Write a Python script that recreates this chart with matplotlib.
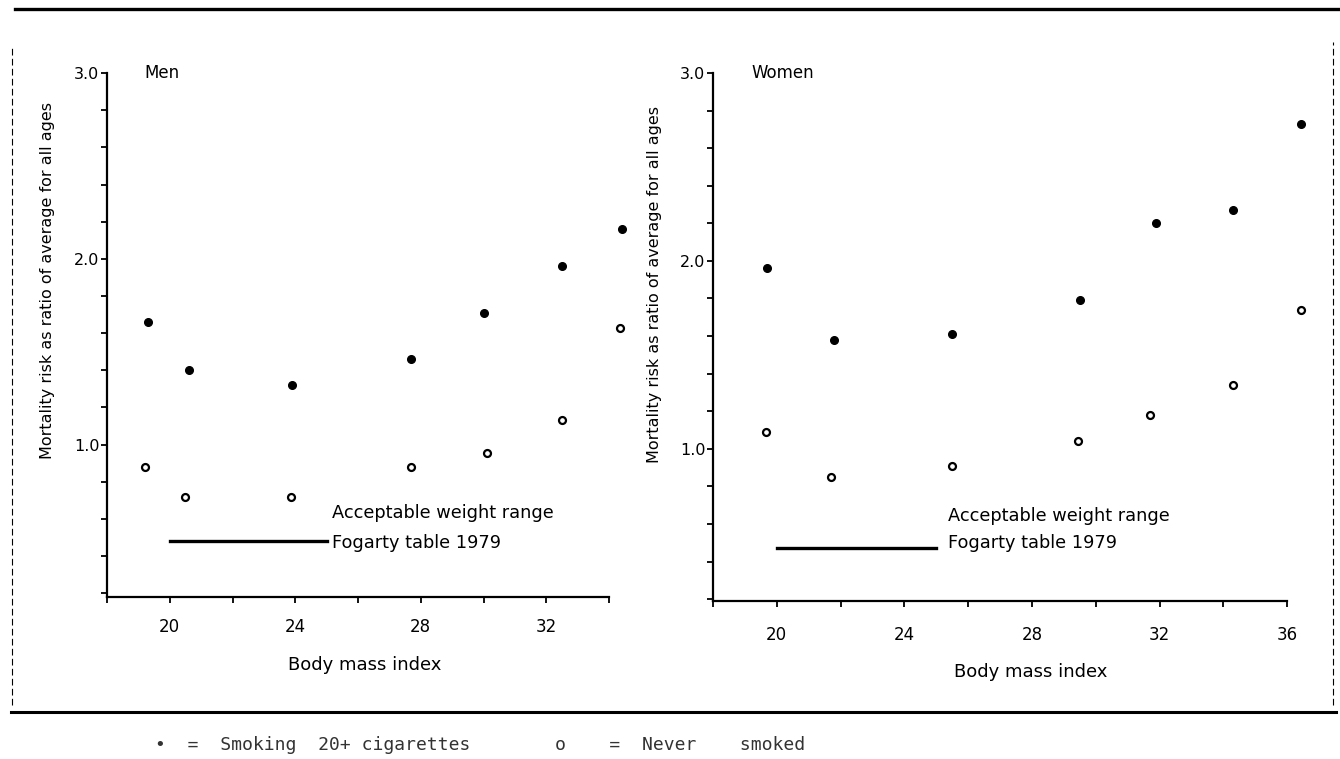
import matplotlib
matplotlib.use("Agg")
import matplotlib.pyplot as plt
from matplotlib.lines import Line2D
from matplotlib.ticker import MultipleLocator, FixedLocator

plt.rcParams['font.family'] = ['DejaVu Sans']

# values
men_bmi_smoke = [19.3, 20.6, 23.9, 27.7, 30.0, 32.5, 34.4]
men_risk_smoke = [1.66, 1.40, 1.32, 1.46, 1.71, 1.96, 2.16]
men_bmi_never = [19.2, 20.5, 23.85, 27.7, 30.1, 32.5, 34.35]
men_risk_never = [0.88, 0.72, 0.72, 0.88, 0.955, 1.13, 1.63]

women_bmi_smoke = [19.7, 21.8, 25.5, 29.5, 31.9, 34.3, 36.45]
women_risk_smoke = [1.96, 1.58, 1.61, 1.79, 2.20, 2.27, 2.73]
women_bmi_never = [19.65, 21.7, 25.5, 29.45, 31.7, 34.3, 36.45]
women_risk_never = [1.09, 0.85, 0.91, 1.04, 1.18, 1.34, 1.74]

fogarty_range = [20, 25]
men_xticks = [20, 24, 28, 32]
women_xticks = [20, 24, 28, 32, 36]
yticks = [1.0, 2.0, 3.0]

fig = plt.figure(figsize=(13.4, 7.59), dpi=100)

def panel(rect, xmax, ymin, title, bs, rs, bn, rn, fog_y, xticks, xpad, ann_x, ann_y):
    ax = fig.add_axes(rect)
    ax.set_xlim(18, xmax)
    ax.set_ylim(ymin, 3.0)
    for s in ['top', 'right']:
        ax.spines[s].set_visible(False)
    for s in ['left', 'bottom']:
        ax.spines[s].set_linewidth(1.6)
    ax.plot(bs, rs, 'o', color='black', markersize=5.5, clip_on=False)
    ax.plot(bn, rn, 'o', markerfacecolor='white', markeredgecolor='black',
            markersize=5, markeredgewidth=1.6, clip_on=False)
    ax.plot(fogarty_range, [fog_y, fog_y], color='black', lw=2.4)
    ax.text(ann_x, ann_y[0], 'Acceptable weight range', fontsize=12.8,
            va='center', ha='left')
    ax.text(ann_x, ann_y[1], 'Fogarty table 1979', fontsize=12.8,
            va='center', ha='left')
    ax.text(19.2, 3.0, title, fontsize=12, va='center', ha='left')
    ax.xaxis.set_major_locator(FixedLocator(xticks))
    ax.xaxis.set_minor_locator(MultipleLocator(2))
    ax.yaxis.set_major_locator(FixedLocator(yticks))
    ax.yaxis.set_minor_locator(MultipleLocator(0.2))
    ax.set_yticklabels(['1.0', '2.0', '3.0'])
    ax.tick_params(axis='both', which='both', direction='out', length=4, width=1.3)
    ax.tick_params(axis='y', which='major', pad=1.5, labelsize=11.5)
    ax.tick_params(axis='x', which='major', pad=xpad, labelsize=12)
    ax.set_xlabel('Body mass index', fontsize=13)
    ax.set_ylabel('Mortality risk as ratio of average for all ages', fontsize=11.5)
    return ax

ax1 = panel([0.0799, 0.2134, 0.3746, 0.6904], 34, 0.18, 'Men',
            men_bmi_smoke, men_risk_smoke, men_bmi_never, men_risk_never,
            0.48, men_xticks, 11, 25.16, (0.63, 0.47))
ax1.yaxis.set_label_coords(-0.104, 0.605)
ax1.xaxis.set_label_coords(0.514, -0.113)

ax2 = panel([0.5321, 0.2082, 0.4284, 0.6956], 36, 0.19, 'Women',
            women_bmi_smoke, women_risk_smoke, women_bmi_never, women_risk_never,
            0.47, women_xticks, 14, 25.38, (0.64, 0.50))
ax2.yaxis.set_label_coords(-0.089, 0.60)
ax2.xaxis.set_label_coords(0.554, -0.117)

# scanned page frame
fig.add_artist(Line2D([0.011, 1.0], [0.988, 0.988], color='black', lw=2.4))
fig.add_artist(Line2D([0.008, 0.997], [0.062, 0.062], color='black', lw=2.2))
fig.add_artist(Line2D([0.009, 0.009], [0.071, 0.94], color='black', lw=0.8, ls=(0, (6, 3))))
fig.add_artist(Line2D([0.995, 0.995], [0.071, 0.945], color='black', lw=0.8, ls=(0, (6, 3))))

# handwritten key under the page
fig.text(0.116, 0.018, u'\u2022  =  Smoking  20+ cigarettes', fontsize=13,
         family='DejaVu Sans Mono', color='#333333', va='center')
fig.text(0.414, 0.018, u'o    =  Never    smoked', fontsize=13,
         family='DejaVu Sans Mono', color='#333333', va='center')

fig.savefig('out.png', dpi=100)
